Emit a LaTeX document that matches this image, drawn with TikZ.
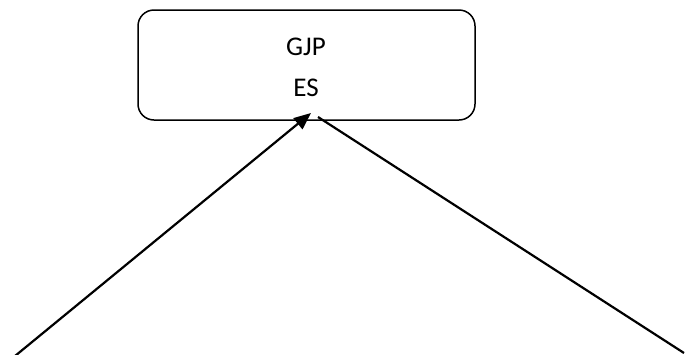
\documentclass[tikz,border=0pt]{standalone}
\usepackage{fontspec}
\setmainfont{Carlito}
\usetikzlibrary{arrows.meta}
\begin{document}
\begin{tikzpicture}[x=1pt,y=-1pt,
  roundbox/.style={draw, line width=1.5pt, rounded corners=16pt, minimum width=337pt, minimum height=110pt, inner sep=0pt},
  label/.style={font=\fontsize{27}{41}\selectfont, align=center},
  link/.style={line width=2.2pt}]
  \useasboundingbox (0,0) rectangle (685,354);
  \node[roundbox] (box) at (306.5,65) {};
  \node[label] (txt) at (306,67) {GJP\\ES};
  \coordinate (leftend) at (15,356);
  \coordinate (rightend) at (684,353);
  \coordinate (tip) at (311,113);
  \coordinate (start) at (318,117);
  \draw[link, -{Triangle[length=17pt,width=14pt]}] (leftend) -- (tip);
  \draw[link] (start) -- (rightend);
\end{tikzpicture}
\end{document}
